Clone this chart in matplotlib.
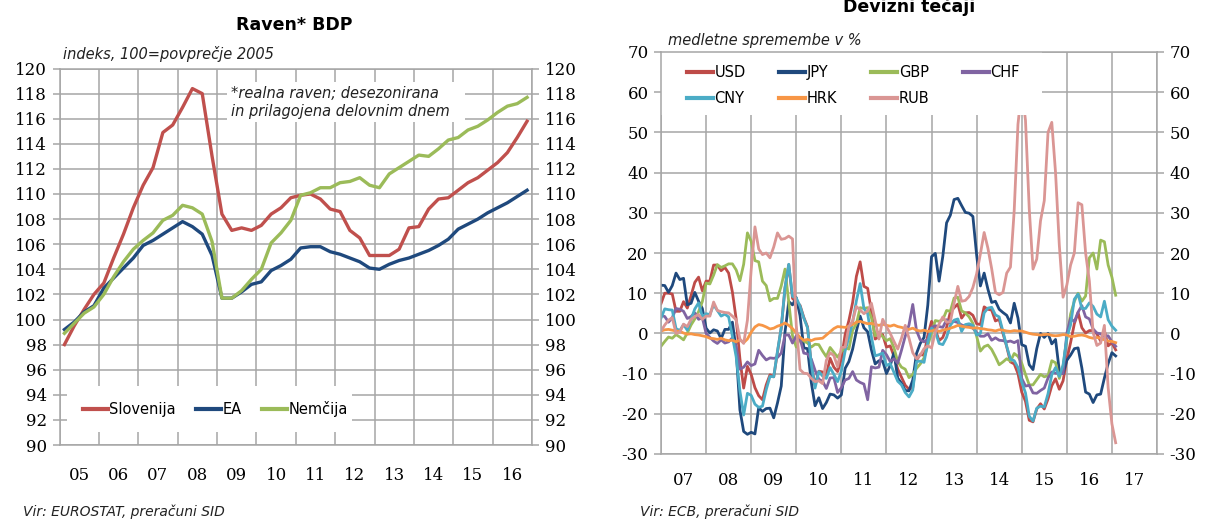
import numpy as np
import matplotlib.pyplot as plt
from matplotlib.patches import Rectangle

plt.rcParams['axes.unicode_minus'] = False

# Raven* BDP, četrtletno 2005Q1-2016Q4 (indeks, 100 = povprečje 2005)
leta_bdp = ['05', '06', '07', '08', '09', '10', '11', '12', '13', '14', '15', '16']
slovenija = [98.0, 99.5, 100.8, 102.0, 102.9, 104.9, 106.8, 108.9,
             110.7, 112.1, 114.9, 115.5, 116.9, 118.4, 118.0, 113.0,
             108.4, 107.1, 107.3, 107.1, 107.5, 108.4, 108.9, 109.7,
             109.9, 110.0, 109.6, 108.8, 108.6, 107.1, 106.5, 105.1,
             105.1, 105.1, 105.6, 107.3, 107.4, 108.8, 109.6, 109.7,
             110.3, 110.9, 111.3, 111.9, 112.5, 113.3, 114.5, 115.8]
ea = [99.2, 99.8, 100.6, 101.1, 102.5, 103.3, 104.1, 104.9,
      105.9, 106.3, 106.8, 107.3, 107.8, 107.4, 106.8, 105.1,
      101.7, 101.7, 102.2, 102.8, 103.0, 103.9, 104.3, 104.8,
      105.7, 105.8, 105.8, 105.4, 105.2, 104.9, 104.6, 104.1,
      104.0, 104.4, 104.7, 104.9, 105.2, 105.5, 105.9, 106.4,
      107.2, 107.6, 108.0, 108.5, 108.9, 109.3, 109.8, 110.3]
nemcija = [98.9, 99.7, 100.5, 101.0, 102.0, 103.4, 104.6, 105.6,
           106.3, 106.9, 107.9, 108.3, 109.1, 108.9, 108.4, 106.2,
           101.7, 101.7, 102.3, 103.2, 104.0, 106.1, 106.9, 107.9,
           109.9, 110.1, 110.5, 110.5, 110.9, 111.0, 111.3, 110.7,
           110.5, 111.6, 112.1, 112.6, 113.1, 113.0, 113.6, 114.3,
           114.5, 115.1, 115.4, 115.9, 116.5, 117.0, 117.2, 117.7]

# Devizni tečaji, mesečno jan 2007 - feb 2017 (medletne spremembe v %)
leta_tecaji = ['07', '08', '09', '10', '11', '12', '13', '14', '15', '16', '17']
usd = [7.4, 10.0, 10.0, 9.8, 5.5, 5.5, 7.9, 6.3, 9.4, 12.7, 14.0, 10.6,
       13.0, 13.0, 17.0, 17.0, 15.6, 16.4, 15.0, 10.3, 3.6, -6.3, -13.6, -8.2,
       -10.2, -13.5, -15.5, -16.5, -12.8, -10.3, -10.8, -4.7, 1.4, 11.2, 17.1, 8.7,
       7.8, 7.0, 4.0, 1.6, -7.9, -12.9, -9.4, -9.6, -10.3, -6.2, -8.4, -9.5,
       -6.4, -0.3, 3.2, 7.7, 14.2, 17.8, 11.7, 11.2, 5.4, -1.4, -0.8, -0.3,
       -3.4, -3.1, -5.7, -8.9, -10.9, -12.9, -13.9, -13.5, -6.6, -5.3, -5.4, -0.5,
       3.0, 1.0, -1.8, -1.0, 1.5, 5.3, 6.4, 7.3, 3.8, 5.1, 5.2, 4.5,
       2.4, 2.2, 6.6, 6.0, 5.8, 3.1, 3.5, 0.0, -3.3, -7.1, -7.6, -10.0,
       -14.6, -16.9, -21.6, -22.0, -18.8, -17.5, -18.8, -16.3, -13.0, -11.3, -13.9, -11.8,
       -6.5, -2.3, 2.4, 5.2, 1.4, 0.1, 0.7, 0.7, -0.1, -1.9, 0.6, -3.1,
       -2.3, -4.1]
jpy = [12.0, 11.9, 10.2, 11.9, 15.0, 13.4, 13.7, 7.1, 7.5, 10.2, 8.0, 6.2,
       1.3, 0.1, 0.9, 0.6, -1.3, 1.0, 1.0, 2.8, -4.1, -19.0, -24.4, -25.1,
       -24.6, -25.0, -18.5, -19.4, -18.7, -18.6, -21.0, -17.3, -13.1, 0.3, 7.9, 7.1,
       8.9, 4.4, -3.6, -3.8, -12.2, -18.0, -16.0, -18.7, -17.2, -15.1, -15.3, -16.1,
       -15.3, -8.7, -7.0, -3.9, 0.6, 4.3, 1.4, 0.4, -4.1, -7.6, -6.8, -6.9,
       -10.0, -8.0, -4.8, -11.1, -12.4, -14.2, -14.3, -11.6, -5.0, -2.5, -1.0, 7.0,
       19.1, 19.9, 13.0, 19.2, 27.5, 29.4, 33.3, 33.6, 31.8, 30.1, 29.9, 29.1,
       19.5, 11.8, 15.0, 11.0, 7.7, 8.0, 6.0, 5.2, 4.5, 2.6, 7.5, 3.8,
       -2.8, -3.2, -7.8, -9.0, -3.8, 0.0, -1.0, 0.0, -2.6, -1.5, -9.3, -10.0,
       -6.7, -5.4, -3.8, -3.6, -8.6, -14.6, -15.1, -17.2, -15.3, -15.1, -11.1, -7.5,
       -4.8, -5.6]
gbp = [-3.2, -2.0, -0.9, -1.2, -0.3, -0.9, -1.6, 0.1, 2.1, 3.6, 5.4, 7.9,
       12.5, 12.3, 14.5, 17.1, 16.4, 16.8, 17.3, 17.3, 15.8, 13.1, 17.2, 25.0,
       22.9, 18.1, 17.8, 13.0, 11.9, 8.1, 8.7, 8.7, 11.8, 16.0, 7.8, -0.6,
       -3.4, -1.1, -1.9, -2.4, -3.4, -2.7, -2.8, -4.4, -5.8, -3.5, -4.7, -5.9,
       -4.5, -3.5, -3.9, 0.8, 2.4, 6.4, 6.2, 6.4, 3.9, -0.6, 0.3, -0.8,
       -1.8, -1.3, -3.6, -7.0, -8.4, -8.9, -11.0, -10.2, -8.7, -7.6, -6.1, -3.0,
       0.1, 3.2, 3.0, 3.4, 5.7, 5.5, 8.8, 9.0, 5.6, 5.1, 4.1, 2.5,
       -0.7, -4.4, -3.3, -2.9, -4.0, -5.8, -7.8, -7.1, -6.3, -6.9, -5.0, -5.7,
       -7.4, -10.2, -12.8, -12.8, -11.5, -10.2, -10.8, -10.5, -6.8, -7.3, -11.2, -8.1,
       -1.5, 4.8, 8.0, 10.0, 8.0, 9.3, 18.8, 20.0, 16.0, 23.2, 22.8, 17.0,
       14.0, 9.5]
chf = [4.5, 4.2, 2.8, 3.9, 6.2, 6.0, 5.5, 3.7, 4.2, 5.1, 3.5, 3.9,
       0.0, -1.0, -1.9, -2.5, -1.6, -2.4, -2.1, -1.1, -3.3, -8.9, -8.4, -7.1,
       -8.0, -7.6, -4.2, -5.5, -6.6, -6.1, -6.2, -6.0, -4.9, -0.4, -0.4, -2.4,
       -0.6, -1.2, -4.9, -5.1, -6.4, -9.2, -11.4, -11.9, -13.7, -11.1, -11.0, -14.7,
       -13.5, -11.6, -11.2, -9.5, -11.6, -12.2, -12.6, -16.5, -8.3, -8.6, -8.4, -4.2,
       -5.3, -7.0, -6.3, -7.4, -4.2, -0.7, 2.1, 7.2, 0.7, -1.6, -2.1, -1.5,
       1.5, 1.9, 1.7, 1.5, 3.4, 2.6, 3.0, 2.7, 2.1, 1.8, 2.2, 1.3,
       0.2, -0.7, -0.7, -0.1, -1.7, -1.1, -1.7, -1.8, -2.1, -1.9, -2.3, -1.8,
       -11.2, -13.1, -12.9, -14.8, -14.9, -14.2, -13.6, -11.1, -9.6, -9.9, -9.9, -10.0,
       0.0, 3.8, 2.9, 5.3, 6.9, 4.1, 3.6, 1.1, 0.1, -0.1, -0.7, -0.6,
       -2.1, -3.2]
cny = [3.8, 6.1, 5.9, 5.8, 1.2, 0.7, 2.2, 0.8, 3.5, 6.1, 7.6, 4.2,
       4.9, 4.7, 7.1, 5.7, 4.3, 4.8, 4.1, -0.7, -5.8, -14.3, -20.3, -14.9,
       -15.4, -17.6, -18.4, -18.1, -14.0, -10.7, -10.8, -4.4, 1.4, 11.5, 17.2, 9.2,
       8.8, 6.8, 3.8, 1.4, -7.6, -13.6, -9.5, -10.6, -11.2, -8.5, -10.2, -12.0,
       -9.4, -4.4, -0.9, 2.8, 8.1, 12.4, 6.2, 4.9, -0.9, -5.6, -5.3, -4.9,
       -8.0, -7.5, -9.7, -11.9, -12.8, -14.7, -15.8, -14.1, -7.0, -6.9, -7.2, -2.2,
       1.3, 0.5, -2.5, -2.8, -1.0, 2.0, 3.3, 3.6, 0.5, 2.2, 2.4, 2.0,
       -0.4, 0.0, 5.1, 6.3, 6.5, 4.6, 4.1, 0.5, -3.2, -6.4, -6.8, -8.5,
       -12.1, -14.8, -20.6, -21.8, -18.6, -18.1, -18.3, -15.0, -10.3, -8.5, -10.7, -7.9,
       -1.0, 2.1, 8.5, 9.8, 6.2, 6.2, 7.6, 6.7, 4.8, 4.1, 8.0, 3.4,
       1.8, 0.8]
hrk = [0.6, 0.9, 1.0, 0.8, 0.6, 0.5, 0.1, -0.2, -0.1, -0.3, -0.4, -0.6,
       -0.8, -1.2, -1.3, -1.5, -1.2, -1.6, -1.8, -1.7, -2.1, -1.6, -2.3, -1.4,
       0.3, 1.6, 2.2, 2.0, 1.6, 1.1, 1.3, 1.8, 2.1, 2.6, 2.0, 1.2,
       0.1, -1.0, -1.7, -1.5, -1.8, -1.4, -1.3, -1.2, -0.4, 0.4, 1.2, 1.7,
       1.6, 1.5, 1.8, 2.2, 2.8, 3.0, 2.7, 2.4, 2.5, 2.2, 2.0, 2.3,
       2.0, 1.8, 2.1, 1.7, 1.5, 1.2, 1.0, 1.3, 0.8, 0.6, 0.8, 0.5,
       0.6, 0.9, 0.5, 0.8, 1.0, 1.3, 1.6, 2.0, 1.8, 1.6, 1.5, 1.3,
       1.4, 1.2, 1.1, 0.9, 0.8, 0.6, 0.9, 0.8, 0.6, 0.5, 0.7, 0.6,
       0.6, 0.3, 0.0, -0.2, -0.3, -0.4, -0.3, -0.2, -0.5, -0.6, -0.5, -0.3,
       -0.4, -0.8, -0.7, -0.5, -0.4, -0.6, -1.0, -1.2, -1.0, -1.2, -1.6, -1.9,
       -2.0, -2.3]
rub = [0.6, 2.1, 3.3, 3.9, 0.0, 0.3, 2.3, 1.7, 3.5, 4.2, 4.7, 3.5,
       4.3, 4.3, 7.8, 5.7, 5.4, 5.2, 5.1, 4.3, 3.4, -1.4, -2.5, 3.3,
       15.8, 26.5, 21.0, 19.6, 20.0, 18.8, 21.5, 25.0, 23.4, 23.6, 24.2, 23.5,
       2.0, -9.0, -9.9, -10.0, -11.2, -12.0, -11.8, -12.5, -6.7, -4.8, -5.5, -8.3,
       -3.5, -3.4, 1.7, 3.1, 6.7, 5.8, 4.9, 5.6, 7.5, 3.2, -1.4, 3.5,
       1.7, 0.0, -2.0, -3.9, -1.2, 2.0, -1.2, -4.8, -6.3, -5.4, -3.8, -3.1,
       -3.6, 0.3, 2.3, 4.1, 2.8, 2.9, 7.5, 11.7, 8.0, 8.2, 9.2, 11.4,
       14.8, 19.8, 25.1, 21.2, 16.1, 10.2, 9.6, 10.2, 15.0, 16.5, 30.6, 52.0,
       61.0, 53.0, 31.0, 16.0, 18.5, 28.0, 33.0, 50.0, 52.5, 40.0, 22.0, 9.0,
       12.0, 17.0, 20.0, 32.5, 32.0, 20.0, 13.0, 0.2, -3.0, -2.4, 2.0, -13.5,
       -22.5, -27.2]

siva = '#A6A6A6'
W, H = 1205, 520
fig = plt.figure(figsize=(W / 100, H / 100), dpi=100)


def dodaj_os(x0, y0, x1, y1):
    return fig.add_axes([x0 / W, 1 - y1 / H, (x1 - x0) / W, (y1 - y0) / H])


def uredi(ax, leta, ymin, ymax, korak, pad_x):
    zac = 2000 + int(leta[0])
    ax.set_xlim(zac, zac + len(leta))
    ax.set_ylim(ymin, ymax)
    ax.set_xticks(np.arange(zac, zac + len(leta) + 1))
    ax.set_xticklabels([])
    ax.set_xticks(np.arange(zac, zac + len(leta)) + 0.5, minor=True)
    ax.set_xticklabels(leta, minor=True)
    ax.set_yticks(np.arange(ymin, ymax + 1, korak))
    ax.grid(True, color=siva, lw=1.1)
    ax.set_axisbelow(True)
    for s in ax.spines.values():
        s.set_color(siva)
        s.set_linewidth(1.1)
        s.set_zorder(3.5)
    ax.tick_params(axis='x', which='both', length=0, pad=pad_x,
                   labelsize=12, labelfontfamily='DejaVu Serif')
    ax.tick_params(axis='y', left=True, right=True, labelleft=True,
                   labelright=True, length=5, width=1.1, color=siva,
                   labelsize=12, pad=4, labelfontfamily='DejaVu Serif')


# ---- levi graf
ax1 = dodaj_os(59.5, 68.5, 532, 445)
uredi(ax1, leta_bdp, 90, 120, 2, 16)
cet = 2005 + (np.arange(len(slovenija)) + 0.5) / 4
ax1.plot(cet, slovenija, color='#C0504D', lw=2.4, label='Slovenija')
ax1.plot(cet, ea, color='#1F497D', lw=2.4, label='EA')
ax1.plot(cet, nemcija, color='#9BBB59', lw=2.4, label='Nemčija')
ax1.add_patch(Rectangle((2005.19, 91.0), 7.25, 3.7, facecolor='white',
                        edgecolor='none', zorder=3))
ax1.add_patch(Rectangle((2009.26, 115.7), 6.05, 3.2, facecolor='white',
                        edgecolor='none', zorder=3))
ax1.text(2009.35, 117.3, '*realna raven; desezonirana\nin prilagojena delovnim dnem',
         fontsize=10.5, style='italic', color='#222222', va='center',
         linespacing=1.25, zorder=4)
leg1 = ax1.legend(loc='center left', bbox_to_anchor=(2005.6, 92.83),
                  bbox_transform=ax1.transData, ncol=3, frameon=False,
                  fontsize=10.5, handlelength=1.7, handletextpad=0.1,
                  columnspacing=1.4, borderpad=0, borderaxespad=0)
leg1.set_zorder(5)
for l in leg1.get_lines():
    l.set_linewidth(3.0)

# ---- desni graf
ax2 = dodaj_os(661, 52, 1157, 454)
uredi(ax2, leta_tecaji, -30, 70, 10, 13)
mes = 2007 + np.arange(len(usd)) / 12
serije = [('USD', usd, '#BE4B48'), ('JPY', jpy, '#1F497D'),
          ('GBP', gbp, '#9BBB59'), ('CHF', chf, '#8064A2'),
          ('CNY', cny, '#4BACC6'), ('HRK', hrk, '#F79646'),
          ('RUB', rub, '#DA9694')]
crte = {}
for ime, vrednosti, barva in serije:
    crte[ime], = ax2.plot(mes, vrednosti, color=barva, lw=2.0, label=ime)
ax2.add_patch(Rectangle((2007, 54.3), 8.45, 15.7, facecolor='white',
                        edgecolor='none', zorder=3))
# legenda po vrsticah: USD JPY GBP CHF / CNY HRK RUB
red = ['USD', 'CNY', 'JPY', 'HRK', 'GBP', 'RUB', 'CHF']
leg2 = ax2.legend([crte[i] for i in red], red, loc='upper left',
                  bbox_to_anchor=(2007.57, 66.8), bbox_transform=ax2.transData,
                  ncol=4, frameon=False, fontsize=10.5, handlelength=1.8,
                  handletextpad=0.1, columnspacing=2.3, labelspacing=0.75,
                  borderpad=0, borderaxespad=0)
leg2.set_zorder(5)
for l in leg2.get_lines():
    l.set_linewidth(3.0)

# ---- naslovi in viri
fig.text(294 / W, 1 - 25 / H, 'Raven* BDP', ha='center', va='center',
         fontsize=12.5, fontweight='bold')
fig.text(909 / W, 1 - 7 / H, 'Devizni tečaji', ha='center', va='center',
         fontsize=12.5, fontweight='bold')
fig.text(63 / W, 1 - 54 / H, 'indeks, 100=povprečje 2005', va='center',
         fontsize=10.5, style='italic', color='#222222')
fig.text(668 / W, 1 - 40 / H, 'medletne spremembe v %', va='center',
         fontsize=10.5, style='italic', color='#222222')
fig.text(23 / W, 1 - 512 / H, 'Vir: EUROSTAT, preračuni SID', va='center',
         fontsize=10, style='italic', color='#222222')
fig.text(640 / W, 1 - 512 / H, 'Vir: ECB, preračuni SID', va='center',
         fontsize=10, style='italic', color='#222222')

fig.savefig('out.png', dpi=100)
